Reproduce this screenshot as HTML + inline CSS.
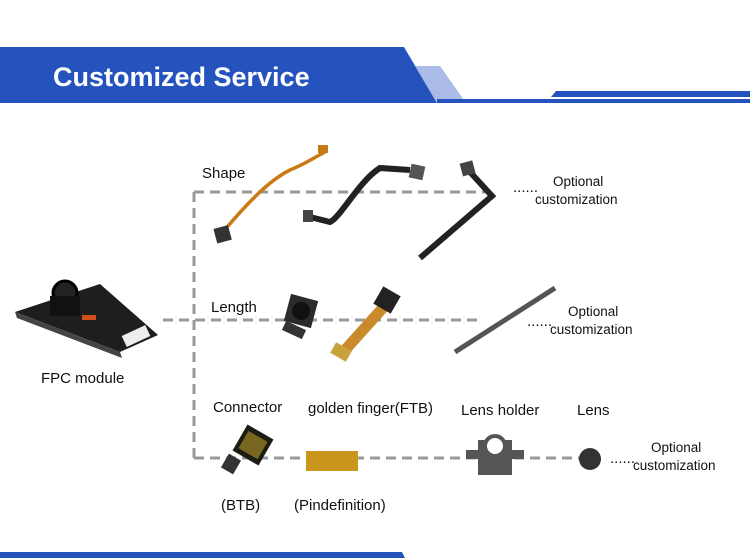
<!DOCTYPE html>
<html><head><meta charset="utf-8"><style>
html,body{margin:0;padding:0;background:#fff}
svg{display:block}
text{font-family:"Liberation Sans","DejaVu Sans",sans-serif;fill:#111}
</style></head><body>
<svg width="750" height="558" viewBox="0 0 750 558" xmlns="http://www.w3.org/2000/svg">
<!-- header -->
<polygon points="0,47 404,47 437,103 0,103" fill="#2553bd"/>
<polygon points="415,66 440,66 466,103 437,103" fill="#a9bbe6"/>
<polygon points="437,99 750,99 750,103 437,103" fill="#2553bd"/>
<polygon points="556,91 750,91 750,97 551,97" fill="#2553bd"/>
<text x="53" y="86" style="font-size:27px;font-weight:bold;fill:#fff">Customized Service</text>
<!-- bottom bar -->
<polygon points="0,552 402,552 405,558 0,558" fill="#2553bd"/>
<!-- dashed connectors -->
<g stroke="#999" stroke-width="3" stroke-dasharray="10,6" fill="none">
<line x1="194" y1="192" x2="485" y2="192"/>
<line x1="163" y1="320" x2="482" y2="320"/>
<line x1="194" y1="458" x2="580" y2="458"/>
<line x1="194" y1="192" x2="194" y2="458"/>
</g>
<!-- labels -->
<g style="font-size:15px">
<text x="202" y="178">Shape</text>
<text x="211" y="312">Length</text>
<text x="41" y="383">FPC module</text>
<text x="213" y="412">Connector</text>
<text x="308" y="413">golden finger(FTB)</text>
<text x="461" y="415">Lens holder</text>
<text x="577" y="415">Lens</text>
<text x="221" y="510">(BTB)</text>
<text x="294" y="510">(Pindefinition)</text>
</g>
<g style="font-size:13.5px">
<text x="513" y="192" style="font-size:15px">......</text><text x="553" y="186">Optional</text><text x="535" y="204">customization</text>
<text x="527" y="326" style="font-size:15px">......</text><text x="568" y="316">Optional</text><text x="550" y="334">customization</text>
<text x="610" y="463" style="font-size:15px">......</text><text x="651" y="452">Optional</text><text x="633" y="470">customization</text>
</g>
<!-- FPC module -->
<polygon points="15,312 100,284 158,335 120,352" fill="#1e1e1e"/>
<polygon points="15,312 120,352 122,358 17,318" fill="#444"/>
<circle cx="65" cy="293" r="12" fill="#222" stroke="#000" stroke-width="3"/>
<rect x="50" y="296" width="30" height="20" fill="#111"/>
<rect x="82" y="315" width="14" height="5" fill="#d0501c"/>
<rect x="123" y="330" width="26" height="12" fill="#eee" transform="rotate(-25 136 336)"/>
<!-- shape row -->
<path d="M222,233 C250,200 270,180 290,170 C305,164 310,160 325,152" stroke="#c97a15" stroke-width="3.5" fill="none"/>
<rect x="215" y="227" width="15" height="15" fill="#333" transform="rotate(-15 222 234)"/>
<rect x="318" y="145" width="10" height="8" fill="#c97a15"/>
<path d="M306,216 L330,222 C340,218 360,180 380,168 L410,170" stroke="#222" stroke-width="6" fill="none"/>
<rect x="303" y="210" width="10" height="12" fill="#444"/>
<rect x="410" y="165" width="14" height="14" fill="#555" transform="rotate(12 417 172)"/>
<path d="M470,172 L492,196 L420,258" stroke="#222" stroke-width="6" fill="none"/>
<rect x="461" y="162" width="13" height="13" fill="#444" transform="rotate(-15 467 168)"/>
<!-- length row -->
<rect x="287" y="297" width="28" height="28" fill="#2b2b2b" transform="rotate(15 301 311)"/>
<circle cx="301" cy="311" r="9" fill="#111"/>
<rect x="283" y="325" width="22" height="10" fill="#333" transform="rotate(25 294 330)"/>
<path d="M345,350 L390,300" stroke="#c88a2a" stroke-width="11" fill="none"/>
<rect x="377" y="290" width="20" height="20" fill="#222" transform="rotate(30 387 300)"/>
<rect x="332" y="346" width="18" height="12" fill="#c8a23a" transform="rotate(30 341 352)"/>
<path d="M455,352 L555,288" stroke="#555" stroke-width="5" fill="none"/>
<!-- bottom row -->
<rect x="238" y="430" width="30" height="30" fill="#1c1c14" transform="rotate(30 253 445)"/>
<rect x="242" y="435" width="22" height="20" fill="#b89a2a" opacity=".6" transform="rotate(30 253 445)"/>
<rect x="224" y="456" width="14" height="16" fill="#333" transform="rotate(30 231 464)"/>
<rect x="306" y="451" width="52" height="20" fill="#c9961e"/>
<rect x="466" y="450" width="58" height="9" fill="#555"/>
<path d="M478,440 L478,475 L512,475 L512,440 Z" fill="#555"/>
<circle cx="495" cy="446" r="10" fill="#fff" stroke="#555" stroke-width="4"/>
<circle cx="590" cy="459" r="11" fill="#333"/>
</svg>
</body></html>
